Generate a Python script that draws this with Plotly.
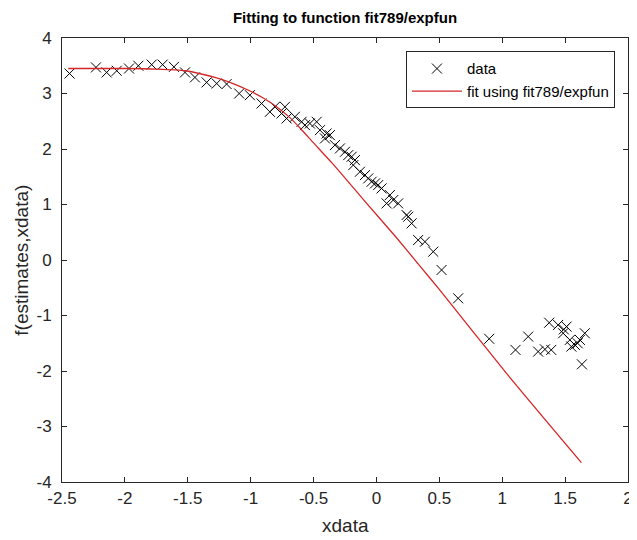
# -*- coding: utf-8 -*-

import plotly.graph_objects as go

xdata = [-2.44, -2.23, -2.145, -2.065, -1.967, -1.893, -1.787, -1.70, -1.61,
         -1.522, -1.443, -1.35, -1.27, -1.191, -1.091, -1.006, -0.913, -0.847,
         -0.807, -0.754, -0.727, -0.714, -0.648, -0.595, -0.568, -0.529,
         -0.475, -0.449, -0.409, -0.396, -0.37, -0.33, -0.29, -0.25, -0.224,
         -0.197, -0.184, -0.171, -0.131, -0.091, -0.065, -0.038, -0.011,
         0.014, 0.041, 0.081, 0.107, 0.134, 0.173, 0.24, 0.253, 0.28, 0.332,
         0.386, 0.452, 0.518, 0.65, 0.897, 1.106, 1.207, 1.286, 1.34, 1.39,
         1.374, 1.445, 1.49, 1.512, 1.485, 1.538, 1.578, 1.55, 1.60, 1.618,
         1.657, 1.634]
ydata = [3.36, 3.47, 3.38, 3.41, 3.45, 3.50, 3.52, 3.52, 3.48,
         3.38, 3.29, 3.20, 3.18, 3.17, 3.00, 2.97, 2.82, 2.67,
         2.76, 2.64, 2.76, 2.55, 2.58, 2.49, 2.43, 2.46,
         2.49, 2.34, 2.19, 2.28, 2.25, 2.07, 2.01, 1.95, 1.89,
         1.86, 1.71, 1.80, 1.59, 1.53, 1.47, 1.41, 1.38,
         1.35, 1.29, 1.02, 1.17, 1.08, 1.02, 0.81, 0.78, 0.66, 0.36,
         0.33, 0.15, -0.18, -0.69, -1.42, -1.62, -1.38, -1.65, -1.61, -1.62,
         -1.13, -1.17, -1.25, -1.20, -1.32, -1.44, -1.53, -1.56, -1.50, -1.44,
         -1.32, -1.88]

# fitted curve
xfit = [-2.45, -2.0, -1.75, -1.52, -1.27, -1.165, -1.0, -0.9, -0.8, -0.69,
        -0.6, -0.5, -0.35, -0.1, 0.16, 0.35, 0.5, 1.03, 1.63]
yfit = [3.45, 3.45, 3.44, 3.41, 3.28, 3.20, 3.04, 2.92, 2.77, 2.57,
        2.36, 2.11, 1.74, 1.08, 0.40, -0.12, -0.53, -2.03, -3.65]

xticks = [-2.5, -2, -1.5, -1, -0.5, 0, 0.5, 1, 1.5, 2]
xticklabels = ["-2.5", "-2", "-1.5", "-1", "-0.5", "0", "0.5", "1", "1.5", "2"]
yticks = [-4, -3, -2, -1, 0, 1, 2, 3, 4]
yticklabels = ["-4", "-3", "-2", "-1", "0", "1", "2", "3", "4"]

axcol = "#262626"
font = "Liberation Sans, Arial, sans-serif"

fig = go.Figure()
fig.add_trace(go.Scatter(x=xdata, y=ydata, mode="markers", name="data",
                         marker=dict(symbol="x-thin", size=10,
                                     line=dict(color="black", width=1))))
fig.add_trace(go.Scatter(x=xfit, y=yfit, mode="lines",
                         name="fit using fit789/expfun",
                         line=dict(color="#d62728", width=1.3, shape="spline",
                                   smoothing=0.6)))

axis_common = dict(showline=True, linecolor=axcol, linewidth=1, mirror="ticks",
                   ticks="inside", ticklen=5, tickcolor=axcol, showgrid=False,
                   zeroline=False, automargin=False,
                   tickfont=dict(size=17, color=axcol, family=font))

fig.update_xaxes(range=[-2.5, 2.0005], tickvals=xticks, ticktext=xticklabels,
                 ticklabelstandoff=1, **axis_common)
fig.update_yaxes(range=[-4, 4], tickvals=yticks, ticktext=yticklabels,
                 ticklabelstandoff=6, **axis_common)

# axis labels placed as annotations (page has an 8px body margin)
fig.add_annotation(text="xdata", xref="paper", yref="paper",
                   x=0.5, y=-0.097, xanchor="center", yanchor="middle",
                   showarrow=False, font=dict(size=19, color=axcol, family=font))
fig.add_annotation(text="f(estimates,xdata)", xref="paper", yref="paper",
                   x=-0.073, y=0.5, xanchor="center", yanchor="middle",
                   textangle=-90, showarrow=False,
                   font=dict(size=19, color=axcol, family=font))

fig.update_layout(
    width=629, height=532,
    margin=dict(l=54, r=9, t=30, b=58),
    paper_bgcolor="white", plot_bgcolor="white",
    font=dict(family=font, color=axcol),
    title=dict(text="<b>Fitting to function fit789/expfun</b>", x=0.5, xref="paper",
               xanchor="center", y=0.981, yanchor="middle",
               font=dict(size=15, color="black")),
    legend=dict(x=0.977, xanchor="right", y=0.97, yanchor="top",
                bordercolor=axcol, borderwidth=1, bgcolor="white",
                font=dict(size=15, color="black"), tracegroupgap=0,
                itemwidth=50),
    showlegend=True,
)

fig.write_html("out.html")
